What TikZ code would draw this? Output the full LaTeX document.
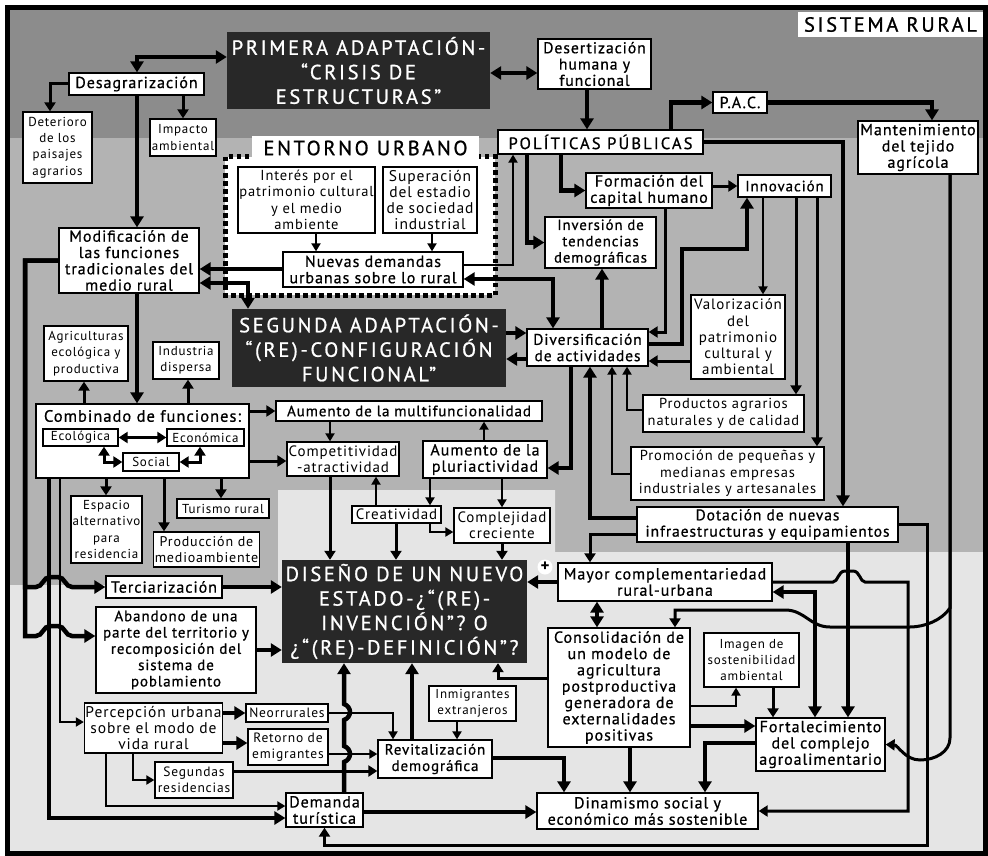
\documentclass[tikz,border=0pt]{standalone}
\usepackage{fontspec}
\setmainfont{PT Sans}[LetterSpace=6]
\newfontfamily\medfont{PT Sans}[LetterSpace=6,FakeBold=0.7]
\newfontfamily\ttlfont{PT Sans}[LetterSpace=13,FakeBold=0.9]
\usepackage{tikz}
\usetikzlibrary{arrows.meta}
\definecolor{bgdark}{RGB}{140,140,140}
\definecolor{bgmid}{RGB}{179,179,179}
\definecolor{bglight}{RGB}{229,229,229}
\definecolor{boxdark}{RGB}{40,40,40}
\newcommand\fsz[1]{\fontsize{#1}{16.3}\selectfont}
\newcommand\szA{\medfont\fsz{16}}
\newcommand\szB{\fsz{14.5}}
\newcommand\szC{\fsz{13}}
\newcommand\szP{\ttlfont\fsz{16.5}}
\newcommand\szT{\ttlfont\fontsize{20.5}{24.5}\selectfont}
\tikzset{
	box/.style 2 args={draw,fill=white,line width=1.3pt,align=center,inner sep=1pt,minimum width=#1pt,minimum height=#2pt},
	dbox/.style 2 args={fill=boxdark,text=white,align=center,inner sep=1pt,font=\szT,minimum width=#1pt,minimum height=#2pt},
	lbl/.style 2 args={fill=white,align=center,inner sep=1pt,font=\szT,minimum width=#1pt,minimum height=#2pt},
	tk/.style={line width=4.5pt,>={Triangle[length=11pt,width=13pt]}},
	md/.style={line width=3pt,>={Triangle[length=9pt,width=11pt]}},
	tn/.style={line width=2.2pt,>={Triangle[length=8pt,width=9pt]}}
}
\begin{document}
\begin{tikzpicture}[x=1pt,y=-1pt]
	\useasboundingbox (0,0) rectangle (988,856);
	\fill [bgdark] (10,10) rectangle (983,138);
	\fill [bgmid] (10,138) rectangle (983,585);
	\fill [bglight] (10,585) -- (278,585) -- (278,490) -- (555,490) -- (555,552) -- (983,552) -- (983,851) -- (10,851) -- cycle;
	\draw [line width=5pt] (7.5,7.5) rectangle (985.5,853.5);
	\draw [line width=5pt,dash pattern=on 4.5pt off 3.5pt,fill=white] (225,157) rectangle (495,295);

	\node [dbox={263}{77}] (prim) at (358.5,70.5) {PRIMERA ADAPTACIÓN-\\“CRISIS DE\\ESTRUCTURAS”};
	\node [box={135}{22},font=\szA] (desag) at (136.5,84) {Desagrarización};
	\node [box={69}{71},font=\szC] (deter) at (57.5,147.5) {Deterioro\\de los\\paisajes\\agrarios};
	\node [box={66}{37},font=\szC] (impac) at (183,137.5) {Impacto\\ambiental};
	\node [lbl={227}{24}] (entor) at (365.5,148) {ENTORNO URBANO};
	\node [box={137}{66},font=\szB] (inter) at (306.5,200) {Interés por el\\patrimonio cultural\\y el medio\\ambiente};
	\node [box={94}{66},font=\fsz{15.5}] (super) at (430,200) {Superación\\del estadio\\de sociedad\\industrial};
	\node [box={180}{35},font=\szA] (nuev) at (373,269.5) {Nuevas demandas\\urbanas sobre lo rural};
	\node [box={140}{65},font=\szA] (modif) at (129,260.5) {Modificación de\\las funciones\\tradicionales del\\medio rural};
	\node [box={113}{50},font=\medfont\fsz{15.7}] (desert) at (594.5,64) {Desertización\\humana y\\funcional};
	\node [lbl={185}{25}] (sist) at (890.5,24.5) {SISTEMA RURAL};
	\node [box={54}{21},font=\szA] (pac) at (740,102.5) {P.A.C.};
	\node [box={120}{53},font=\szA] (mant) at (918,147.5) {Mantenimiento\\del tejido\\agrícola};
	\node [box={205}{24},font=\szP] (polit) at (600.5,142) {POLÍTICAS PÚBLICAS};
	\node [box={126}{35},font=\szA] (forma) at (649,190.5) {Formación del\\capital humano};
	\node [box={93}{22},font=\medfont\fsz{15}] (innov) at (784.5,186) {Innovación};
	\node [box={111}{51},font=\medfont\fsz{14.8}] (inver) at (600.5,242.5) {Inversión de\\tendencias\\demográficas};
	\node [dbox={274}{78}] (segun) at (369,348) {SEGUNDA ADAPTACIÓN-\\“(RE)-CONFIGURACIÓN\\FUNCIONAL”};
	\node [box={121}{37},font=\medfont\fsz{15.5}] (diver) at (587.5,347.5) {Diversificación\\de actividades};
	\node [box={94}{84},font=\fsz{15}] (valor) at (738,337) {Valorización\\del\\patrimonio\\cultural y\\ambiental};
	\node [box={161}{37},font=\szB] (produ) at (723.5,413.5) {Productos agrarios\\naturales y de calidad};
	\node [box={193}{53},font=\szB] (promo) at (727.5,473.5) {Promoción de pequeñas y\\medianas empresas\\industriales y artesanales};
	\node [box={261}{35},font=\medfont\fsz{15.5}] (dotac) at (767.5,524.5) {Dotación de nuevas\\infraestructuras y equipamientos};
	\node [box={84}{55},font=\szC] (agric) at (86,353.5) {Agriculturas\\ecológica y\\productiva};
	\node [box={66}{37},font=\szC] (indus) at (186,360.5) {Industria\\dispersa};
	\node [box={213}{74}] (combi) at (142.5,441) {};
	\node [font=\medfont\fsz{16.5},inner sep=0pt] (combt) at (142.5,416) {Combinado de funciones:};
	\node [box={75}{17},font=\szC,inner sep=0pt] (ecol) at (80.5,437.5) {Ecológica};
	\node [box={77}{17},font=\szC,inner sep=0pt] (econ) at (205.5,437.5) {Económica};
	\node [box={56}{18},font=\szC,inner sep=0pt] (soci) at (151,462) {Social};
	\node [box={71}{67},font=\szC] (espac) at (106.5,529.5) {Espacio\\alternativo\\para\\residencia};
	\node [box={92}{19},font=\szC,inner sep=0pt] (turis) at (223,508.5) {Turismo rural};
	\node [box={105}{35},font=\fsz{14}] (prodm) at (206.5,549.5) {Producción de\\medioambiente};
	\node [box={266}{20},font=\medfont\fsz{15},inner sep=0pt] (multi) at (409,411) {Aumento de la multifuncionalidad};
	\node [box={112}{34},font=\fsz{15}] (compe) at (343,459) {Competitividad\\-atractividad};
	\node [box={124}{37},font=\szA] (pluri) at (485,459.5) {Aumento de la\\pluriactividad};
	\node [box={89}{17},font=\fsz{15},inner sep=0pt] (creat) at (396.5,514.5) {Creatividad};
	\node [box={96}{35},font=\fsz{15}] (compl) at (502,525.5) {Complejidad\\creciente};
	\node [dbox={245}{103}] (disen) at (404.5,611.5) {DISEÑO DE UN NUEVO\\ESTADO-¿“(RE)-\\INVENCIÓN”? O\\¿“(RE)-DEFINICIÓN”?};
	\node [circle,fill=white,inner sep=0pt,minimum size=15pt,font=\bfseries\fontsize{17}{17}\selectfont] (plus) at (545,567) {+};
	\node [box={116}{22},font=\szA] (terci) at (164,587) {Terciarización};
	\node [box={160}{86},font=\medfont\fsz{15}] (aband) at (176,650) {Abandono de una\\parte del territorio y\\recomposición del\\sistema de\\poblamiento};
	\node [box={129}{50},font=\fsz{15.5}] (perce) at (153.5,728) {Percepción urbana\\sobre el modo de\\vida rural};
	\node [box={82}{18},font=\fsz{13.5},inner sep=0pt] (neorr) at (287,713) {Neorrurales};
	\node [box={80}{36},font=\fsz{13.5}] (retor) at (288,747) {Retorno de\\emigrantes};
	\node [box={78}{36},font=\fsz{13.5}] (seres) at (194,780) {Segundas\\residencias};
	\node [box={77}{34},font=\szA] (deman) at (324.5,810) {Demanda\\turística};
	\node [box={114}{38},font=\medfont\fsz{15}] (revit) at (435,759) {Revitalización\\demográfica};
	\node [box={87}{35},font=\szC] (inmig) at (472.5,703.5) {Inmigrantes\\extranjeros};
	\node [box={214}{38},font=\szA] (mayor) at (665,582) {Mayor complementariedad\\rural-urbana};
	\node [box={142}{119},font=\szA] (conso) at (619,687.5) {Consolidación de\\un modelo de\\agricultura\\postproductiva\\generadora de\\externalidades\\positivas};
	\node [box={95}{54},font=\szC] (image) at (751.5,660) {Imagen de\\sostenibilidad\\ambiental};
	\node [box={129}{53},font=\szA] (forta) at (820.5,744.5) {Fortalecimiento\\del complejo\\agroalimentario};
	\node [box={221}{36},font=\szA] (dinam) at (647.5,811) {Dinamismo social y\\económico más sostenible};

	\draw [tk,<->] (prim.west |- 0,57) -| (desag.north -| 137,0);
	\draw [tk,<->] (prim.east |- 0,73) -- (desert.west |- 0,73);
	\draw [md,->] (desag.west) -| (deter.north -| 50,0);
	\draw [md,->] (desag.south -| 183,0) -- (impac.north -| 183,0);
	\draw [tk,->] (desag.south -| 137,0) -- (modif.north -| 137,0);
	\draw [tn,->] (inter.south -| 316,0) -- (nuev.north -| 316,0);
	\draw [tn,->] (super.south -| 432,0) -- (nuev.north -| 432,0);
	\draw [tk,->] (nuev.west |- 0,269) -- (modif.east |- 0,269);
	\draw [tk,<->] (modif.east |- 0,283) -| (segun.north -| 248,0);
	\draw [tn,->] (nuev.east |- 0,265) -| (polit.south -| 513,0);
	\draw [tk,<->] (nuev.east |- 0,279) -| (diver.north -| 553,0);
	\draw [tk,->] (desert.south -| 587,0) -- (polit.north -| 587,0);
	\draw [tk,->] (polit.north -| 671,0) |- (pac.west);
	\draw [tk,->] (pac.east) -| (mant.north -| 932,0);
	\draw [tk,->] (polit.east) -| (dotac.north -| 843,0);
	\draw [tk,->] (polit.south -| 561,0) |- (forma.west);
	\draw [tk,->] (polit.south -| 527,0) |- (inver.west);
	\draw [md,->] (forma.east |- 0,186) -- (innov.west);
	\draw [md,->] (forma.south -| 665,0) |- (diver.east |- 0,332);
	\draw [tk,->] (diver.east |- 0,344) -| (682,249) -| (innov.south -| 747,0);
	\draw [tk,->] (diver.north -| 602,0) -- (inver.south -| 602,0);
	\draw [md,->] (valor.west |- 0,361) -- (diver.east |- 0,361);
	\draw [tn,->] (innov.south -| 763,0) -- (valor.north -| 763,0);
	\draw [md,->] (innov.south -| 796,0) -- (produ.north -| 796,0);
	\draw [md,->] (innov.south -| 817,0) -- (promo.north -| 817,0);
	\draw [tn,->] (produ.west |- 0,410) -| (diver.south -| 627,0);
	\draw [tn,->] (promo.west |- 0,474) -| (diver.south -| 612,0);
	\draw [tk,->] (dotac.west |- 0,518) -| (diver.south -| 590,0);
	\draw [tk,->] (segun.east |- 0,333) -- (diver.west |- 0,333);
	\draw [tk,->] (diver.west |- 0,359) -- (segun.east |- 0,359);
	\draw [tk,->] (diver.south -| 571,0) |- (pluri.east |- 0,468);
	\draw [md,->] (dotac.west |- 0,534) -| (mayor.north -| 590,0);
	\draw [md,->] (dotac.east) -| (927,845) -| (deman.south);
	\draw [tk,->] (dotac.south -| 848,0) -- (forta.north -| 848,0);
	\draw [md,->] (mayor.east) -- (833,582) .. controls (838,582) and (838,571) .. (845,571) -- (853,571) .. controls (860,571) and (860,582) .. (865,582) -| (dinam.east -| 908,0) -- (dinam.east);
	\draw [tk,<->] (forta.north -| 815,0) |- (mayor.east |- 0,592);
	\draw [md,->] (mant.south -| 950,0) -- (950,738) .. controls (950,752) and (935,760) .. (920,760) .. controls (905,760) and (898,745) .. (forta.east);
	\draw [md,->] (mant.south -| 950,0) -- (950,608) .. controls (942,620) and (925,627) .. (910,627) -- (830,627) .. controls (810,627) and (805,610) .. (785,610) -| (conso.north -| 675,0);
	\draw [tk,<->] (mayor.south -| 597,0) -- (conso.north -| 597,0);
	\draw [tk,->] (mayor.west) -- (disen.east |- mayor.west);
	\draw [md,->] (conso.west |- 0,678) -| (disen.south -| 498,0);
	\draw [tn,->] (conso.east |- 0,706) -| (image.south -| 736,0);
	\draw [tk,->] (conso.east |- 0,726) -- (forta.west |- 0,726);
	\draw [md,->] (image.south -| 773,0) -- (forta.north -| 773,0);
	\draw [tk,->] (conso.south -| 630,0) -- (dinam.north -| 630,0);
	\draw [tk,->] (forta.west |- 0,743) -| (dinam.north -| 705,0);
	\draw [tk,->] (revit.east |- 0,758) -| (dinam.north -| 564,0);
	\draw [tk,->] (deman.east |- 0,812) -- (dinam.west |- 0,812);
	\draw [tk,->] (revit.north -| 412,0) -- (disen.south -| 412,0);
	\draw [tk,->] (deman.north -| 344,0) -- (344,762) .. controls (352,759) and (352,749) .. (344,746) -- (344,720) .. controls (352,717) and (352,707) .. (344,704) -- (disen.south -| 344,0);
	\draw [tn,->] (inmig.south -| 457,0) -- (revit.north -| 457,0);
	\draw [tn,->] (neorr.east) -| (revit.north -| 393,0);
	\draw [tn,->] (retor.east |- 0,754) -- (revit.west |- 0,754);
	\draw [md,->] (seres.east |- 0,771) -- (revit.west |- 0,771);
	\draw [tk,->] (perce.east |- neorr.west) -- (neorr.west);
	\draw [tk,->] (perce.east |- 0,743) -- (retor.west |- 0,743);
	\draw [tn,->] (perce.south -| 133,0) |- (seres.west);
	\draw [tn,->] (perce.south -| 106,0) |- (deman.west |- 0,806);
	\draw [tk,->] (combi.south -| 49,0) |- (deman.west |- 0,818);
	\draw [tn,->] (combi.south -| 60,0) |- (perce.west |- 0,722);
	\draw [tk,->] (modif.west) -| (25,587) -- (36,587) .. controls (43,587) and (43,577) .. (50,577) -- (58,577) .. controls (65,577) and (65,587) .. (72,587) -- (terci.west);
	\draw [tk,->] (modif.west) -| (25,636) -- (36,636) .. controls (43,636) and (43,626) .. (50,626) -- (58,626) .. controls (65,626) and (65,636) .. (72,636) -- (aband.west |- 0,636);
	\draw [tk,->] (terci.east) -- (disen.west |- terci.east);
	\draw [tk,->] (aband.east) -- (disen.west |- aband.east);
	\draw [tk,->] (modif.south -| 137,0) -- (combi.north -| 137,0);
	\draw [md,->] (combi.north -| 84,0) -- (agric.south -| 84,0);
	\draw [md,->] (combi.north -| 188,0) -- (indus.south -| 188,0);
	\draw [md,->] (combi.east |- multi.west) -- (multi.west);
	\draw [md,->] (combi.east |- 0,461) -- (compe.west |- 0,461);
	\draw [md,->] (combi.south -| 106,0) -- (espac.north -| 106,0);
	\draw [md,->] (combi.south -| 164,0) -- (prodm.north -| 164,0);
	\draw [md,->] (combi.south -| 221,0) -- (turis.north -| 221,0);
	\draw [md,<->] (ecol.east) -- (econ.west);
	\draw [md,<->] (ecol.south -| 104,0) |- (soci.west);
	\draw [md,<->] (econ.south -| 200,0) |- (soci.east);
	\draw [tn,->] (multi.south -| 330,0) -- (compe.north -| 330,0);
	\draw [tn,->] (pluri.north -| 484,0) -- (multi.south -| 484,0);
	\draw [tn,->] (creat.north -| 376,0) -- (compe.south -| 376,0);
	\draw [tn,->] (pluri.south -| 430,0) -- (creat.north -| 430,0);
	\draw [tn,->] (pluri.south -| 502,0) -- (compl.north -| 502,0);
	\draw [tn,->] (creat.south -| 430,0) |- (compl.west |- 0,532);
	\draw [md,->] (compe.south -| 330,0) -- (disen.north -| 330,0);
	\draw [md,->] (creat.south -| 396,0) -- (disen.north -| 396,0);
	\draw [md,->] (compl.south -| 502,0) -- (disen.north -| 502,0);
\end{tikzpicture}
\end{document}
